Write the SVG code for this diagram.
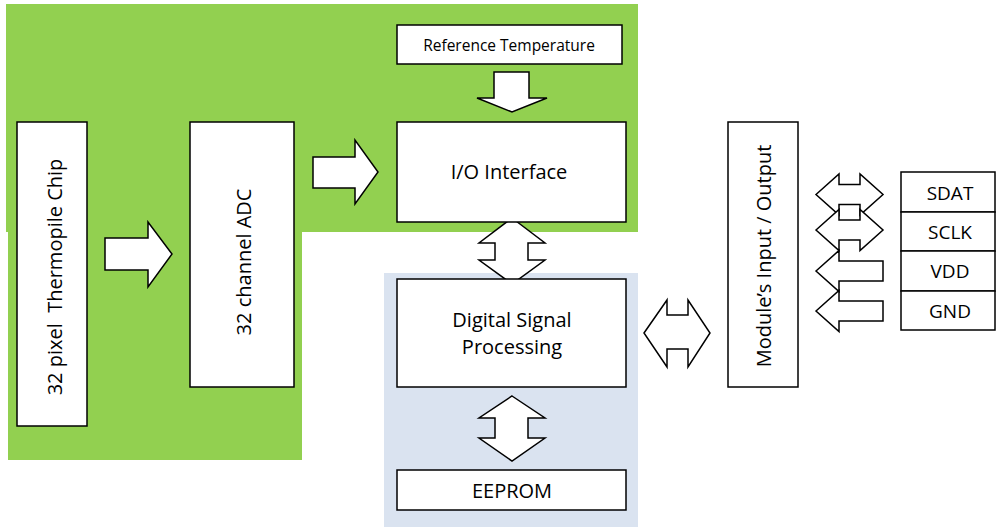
<svg xmlns="http://www.w3.org/2000/svg" width="996" height="527" viewBox="0 0 996 527">
<style>
.box{fill:#fff;stroke:#000;stroke-width:1.5}
.arr{fill:#fff;stroke:#000;stroke-width:1.5;stroke-linejoin:miter}
.t{font-family:"Open Sans","Liberation Sans",sans-serif;font-size:20px;fill:#000;text-anchor:middle}
.s{font-size:15.5px}
.p{font-size:19px}
</style>
<g id="backgrounds">
<rect x="6" y="4" width="632" height="228" fill="#92D050"/>
<rect x="8" y="231" width="294" height="229" fill="#92D050"/>
<rect x="384" y="273" width="254" height="254" fill="#DAE3F0"/>
</g>
<g id="connectors">
<path class="arr" d="M494,72 H529 V98 H547 L512,112 L477,98 H494 Z"/>
<path class="arr" d="M313,157 H355 V140 L378,172 L355,204 V188 H313 Z"/>
<path class="arr" d="M105,238 H148 V222 L172,254 L148,287 V270 H105 Z"/>
<path class="arr" d="M512,218 L545,243 H528 V260 H545 L512,284 L479,260 H495 V243 H479 Z"/>
<path class="arr" d="M512,396 L545,418 H528 V438 H545 L512,461 L479,438 H495 V418 H479 Z"/>
<path class="arr" d="M644,333 L667,300 V315 H688 V300 L710,333 L688,367 V349 H667 V367 Z"/>
<path class="arr" d="M816,194.5 L839,174 V184.5 H860 V174 L883,194.5 L860,215 V204.5 H839 V215 Z"/>
<path class="arr" d="M816,230 L839,209.5 V220 H860 V209.5 L883,230 L860,250.5 V240 H839 V250.5 Z"/>
<path class="arr" d="M816,271 L839,250.5 V261 H883 V281 H839 V291.5 Z"/>
<path class="arr" d="M816,311 L839,290.5 V301 H883 V321 H839 V331.5 Z"/>
</g>
<g id="chip">
<rect class="box" x="17" y="122" width="70" height="304"/>
<text class="t" transform="translate(62,277) rotate(-90)" xml:space="preserve">32 pixel  Thermopile Chip</text>
</g>
<g id="adc">
<rect class="box" x="190" y="122" width="104" height="265"/>
<text class="t" transform="translate(251,262) rotate(-90)">32 channel ADC</text>
</g>
<g id="reftemp">
<rect class="box" x="397" y="25" width="225" height="39"/>
<text class="t s" x="509" y="51">Reference Temperature</text>
</g>
<g id="io">
<rect class="box" x="397" y="122" width="229" height="100"/>
<text class="t" x="509" y="179">I/O Interface</text>
</g>
<g id="dsp">
<rect class="box" x="397" y="279" width="229" height="108"/>
<text class="t" x="512" y="327">Digital Signal</text>
<text class="t" x="512" y="354">Processing</text>
</g>
<g id="eeprom">
<rect class="box" x="397" y="470" width="229" height="40"/>
<text class="t" x="512" y="498">EEPROM</text>
</g>
<g id="module">
<rect class="box" x="728" y="122" width="70" height="265"/>
<text class="t" transform="translate(771,256) rotate(-90)">Module’s Input / Output</text>
</g>
<g id="pins">
<rect class="box" x="901" y="172" width="94" height="40"/>
<rect class="box" x="901" y="212" width="94" height="39"/>
<rect class="box" x="901" y="251" width="94" height="40"/>
<rect class="box" x="901" y="291" width="94" height="39"/>
<text class="t p" x="950" y="200">SDAT</text>
<text class="t p" x="950" y="239">SCLK</text>
<text class="t p" x="950" y="278">VDD</text>
<text class="t p" x="950" y="318">GND</text>
</g>
</svg>
